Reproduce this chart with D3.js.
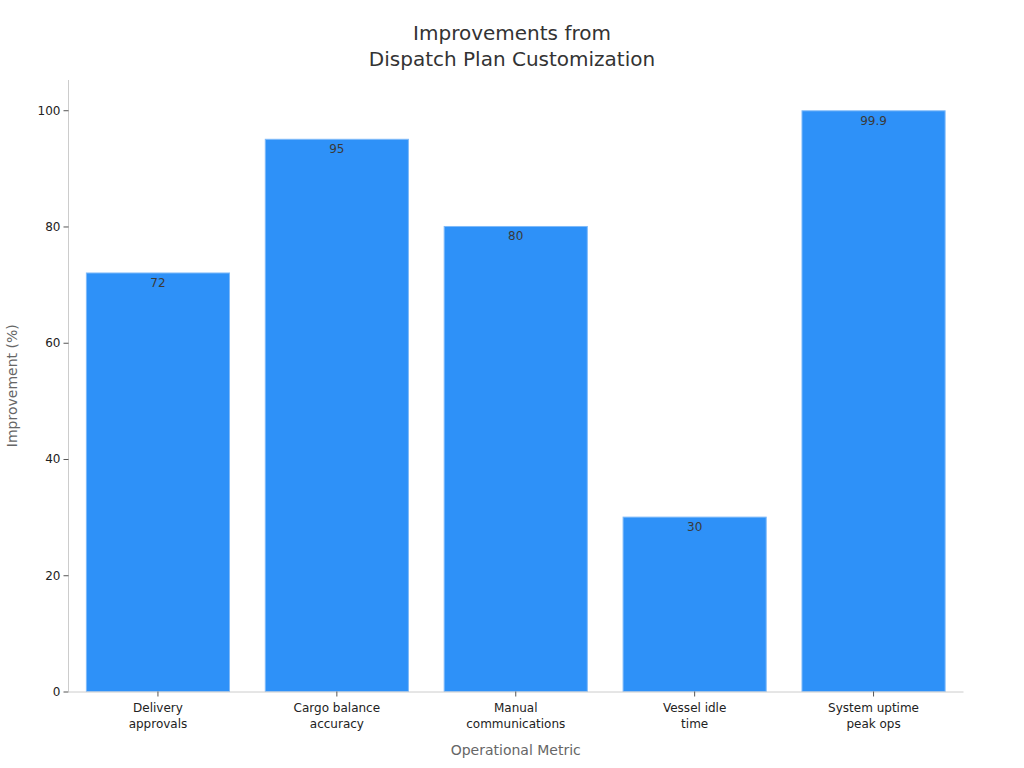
<!DOCTYPE html>
<html>
<head>
<meta charset="utf-8">
<script src="https://cdn.jsdelivr.net/npm/d3@7"></script>
<style>
  body { margin: 0; background: #fff; font-family: "DejaVu Sans", sans-serif; }
</style>
</head>
<body>
<div id="chart"></div>
<script>
const categories = [
  ["Delivery", "approvals"],
  ["Cargo balance", "accuracy"],
  ["Manual", "communications"],
  ["Vessel idle", "time"],
  ["System uptime", "peak ops"],
];
const values = [72, 95, 80, 30, 99.9];
const valueLabels = ["72", "95", "80", "30", "99.9"];
const yTicks = [0, 20, 40, 60, 80, 100];

const width = 1024;
const height = 768;
const margin = { top: 80, right: 61, bottom: 76.5, left: 68.5 };

const svg = d3
  .select("#chart")
  .append("svg")
  .attr("width", width)
  .attr("height", height);

const keys = categories.map((c) => c.join(" "));

const x = d3
  .scaleBand()
  .domain(keys)
  .range([margin.left, width - margin.right])
  .paddingInner(0.2)
  .paddingOuter(0.1);

// 100 sits at y=110, 0 at y=691
const y = d3
  .scaleLinear()
  .domain([0, 105.2])
  .range([height - margin.bottom, margin.top]);

// title
svg
  .append("text")
  .attr("x", 512)
  .attr("y", 40)
  .attr("text-anchor", "middle")
  .attr("font-size", 20)
  .attr("fill", "#333")
  .selectAll("tspan")
  .data(["Improvements from", "Dispatch Plan Customization"])
  .join("tspan")
  .attr("x", 512)
  .attr("dy", (d, i) => (i === 0 ? 0 : 26))
  .text((d) => d);

// bars
svg
  .selectAll(".bar")
  .data(values)
  .join("rect")
  .attr("class", "bar")
  .attr("x", (d, i) => x(keys[i]))
  .attr("y", (d) => y(d))
  .attr("width", x.bandwidth())
  .attr("height", (d) => y(0) - y(d))
  .attr("fill", "#2e91f8")
  .attr("stroke", "#7fbaf9")
  .attr("stroke-width", 1);

// value labels
svg
  .selectAll(".val")
  .data(values)
  .join("text")
  .attr("class", "val")
  .attr("x", (d, i) => x(keys[i]) + x.bandwidth() / 2)
  .attr("y", (d) => y(d) + 14)
  .attr("text-anchor", "middle")
  .attr("font-size", 12)
  .attr("fill", "#3a3a3a")
  .text((d, i) => valueLabels[i]);

// y axis
const yAxis = svg
  .append("g")
  .attr("transform", `translate(${margin.left},0)`)
  .call(d3.axisLeft(y).tickValues(yTicks).tickSize(5).tickPadding(3));
yAxis.select(".domain").attr("stroke", "#ccc").attr("d", `M0,${margin.top}V${y(0)}`);
yAxis.selectAll(".tick line").attr("stroke", "#555");
yAxis.selectAll(".tick text").attr("font-size", 12).attr("fill", "#222").attr("font-family", "DejaVu Sans");

// x axis
const xAxis = svg
  .append("g")
  .attr("transform", `translate(0,${y(0)})`)
  .call(d3.axisBottom(x).tickSize(5).tickSizeOuter(0).tickFormat(() => ""));
xAxis.select(".domain").attr("stroke", "#ccc");
xAxis.selectAll(".tick line").attr("stroke", "#555");
xAxis
  .selectAll(".tick")
  .append("text")
  .attr("fill", "#222")
  .attr("font-size", 12)
  .attr("font-family", "DejaVu Sans")
  .attr("text-anchor", "middle")
  .selectAll("tspan")
  .data((d, i) => categories[i])
  .join("tspan")
  .attr("x", 0)
  .attr("y", (d, i) => 20 + i * 16)
  .text((d) => d);

// axis titles
svg
  .append("text")
  .attr("x", (margin.left + width - margin.right) / 2)
  .attr("y", 755)
  .attr("text-anchor", "middle")
  .attr("font-size", 14)
  .attr("fill", "#666")
  .text("Operational Metric");

svg
  .append("text")
  .attr("transform", `translate(17,${(margin.top + y(0)) / 2 + 0}) rotate(-90)`)
  .attr("text-anchor", "middle")
  .attr("font-size", 14)
  .attr("fill", "#666")
  .text("Improvement (%)");
</script>
</body>
</html>
